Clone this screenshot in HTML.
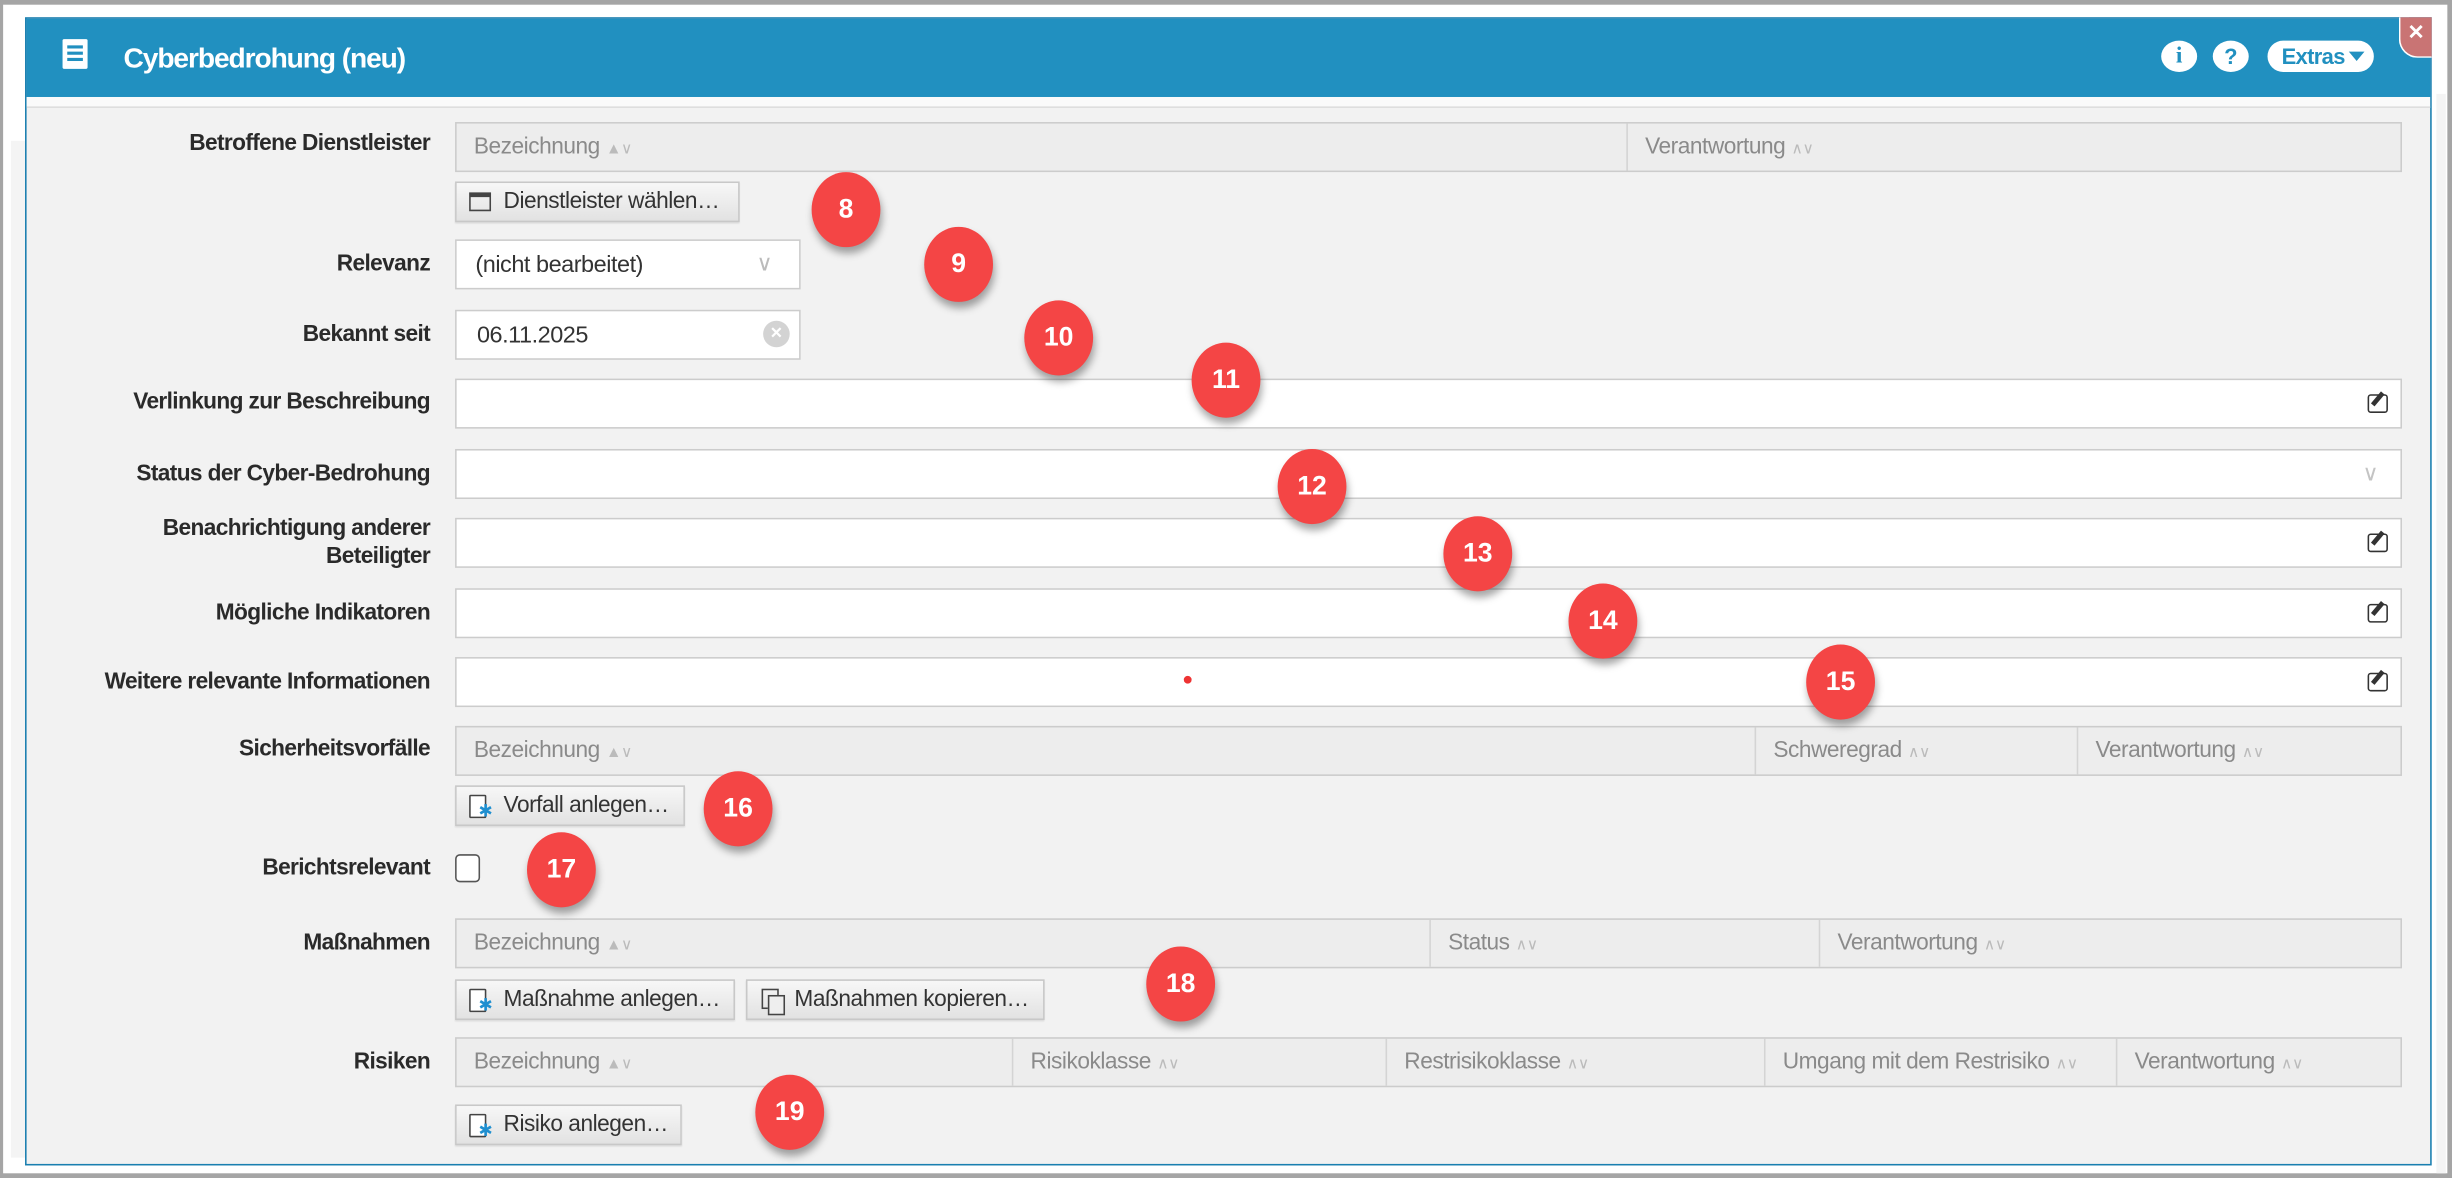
<!DOCTYPE html>
<html><head><meta charset="utf-8">
<style>
*{box-sizing:border-box;margin:0;padding:0}
html,body{width:2452px;height:1178px;overflow:hidden;background:#fff}
#w{position:absolute;left:0;top:0;width:1568px;height:753px;transform:scale(1.5638,1.5644);transform-origin:0 0;font-family:"Liberation Sans Narrow","Liberation Sans",sans-serif;background:#fff}
.a{position:absolute}
.lbl{position:absolute;right:1293px;font-size:14.5px;font-weight:bold;color:#2a2a2a;text-align:right;line-height:18px;white-space:nowrap;letter-spacing:-0.4px}
.tbl{position:absolute;left:291px;width:1245px;height:32px;background:#ededed;border:1px solid #ccc}
.th{position:absolute;top:0;height:30px;line-height:30px;font-size:14.5px;color:#8a8a8a;padding-left:11px;white-space:nowrap;letter-spacing:-0.3px}
.th.d{border-left:1px solid #d4d4d4}
.th s{text-decoration:none;font-size:10px;color:#bbb;margin-left:4px}
.inp{position:absolute;left:291px;width:1245px;height:32px;background:#fff;border:1px solid #ccc}
.btn{position:absolute;height:26px;background:linear-gradient(#f7f7f7,#e2e2e2);border:1px solid #c8c8c8;font-size:14.5px;color:#333;line-height:24px;padding-left:30px;white-space:nowrap;letter-spacing:-0.3px;box-shadow:0 1px 1px rgba(0,0,0,.1)}
.doc{position:absolute;left:8px;top:5px;width:11px;height:15px;border:1.5px solid #444;border-radius:1px;background:#fff}
.doc:after{content:"✱";position:absolute;left:5px;top:5px;color:#1f8fd0;font-size:11px;line-height:11px}
.c{position:absolute;width:44px;height:48px;border-radius:50%;background:#f44545;color:#fff;font-family:"Liberation Sans",sans-serif;font-weight:bold;font-size:17px;text-align:center;line-height:48px;box-shadow:1px 4px 5px rgba(0,0,0,.35)}
.ed{position:absolute;right:8px;top:9px;width:13px;height:12px;border:1.5px solid #333;border-radius:2px}
.ed:after{content:"";position:absolute;left:4px;top:-3px;width:3px;height:10px;background:#333;transform:rotate(40deg)}
</style></head><body><div id="w">
<div class="a" style="left:0;top:0;width:1568px;height:3px;background:#a5a5a5"></div>
<div class="a" style="left:0;top:750px;width:1568px;height:3px;background:#a5a5a5"></div>
<div class="a" style="left:0;top:0;width:2px;height:753px;background:#a5a5a5"></div>
<div class="a" style="left:1565px;top:0;width:3px;height:753px;background:#a5a5a5"></div>
<div class="a" style="left:7px;top:90px;width:14px;height:650px;background:#f4f4f4"></div>
<div class="a" style="left:1558px;top:60px;width:6px;height:690px;background:#f4f4f4"></div>
<!-- dialog -->
<div class="a" style="left:16px;top:11px;width:1539px;height:734px;background:#f2f2f2;border:1px solid #1a7fb0"></div>
<div class="a" style="left:17px;top:12px;width:1537px;height:50px;background:#2190c0"></div>
<div class="a" style="left:17px;top:62px;width:1537px;height:7px;background:#fafafa;border-bottom:1px solid #ddd"></div>
<div class="a" style="left:40px;top:25px;width:16px;height:19px;background:#fff;border-radius:1px"></div>
<div class="a" style="left:43px;top:29px;width:10px;height:2px;background:#2190c0;box-shadow:0 4px 0 #2190c0,0 8px 0 #2190c0"></div>
<div class="a" style="left:79px;top:27px;font-size:18px;font-weight:bold;color:#fff;white-space:nowrap;letter-spacing:-0.7px">Cyberbedrohung (neu)</div>
<div class="a" style="left:1382px;top:26px;width:23px;height:20px;border-radius:50%;background:#fff;color:#2190c0;font-weight:bold;font-size:15px;text-align:center;line-height:20px;font-family:'Liberation Serif',serif">i</div>
<div class="a" style="left:1415px;top:26px;width:23px;height:20px;border-radius:50%;background:#fff;color:#2190c0;font-weight:bold;font-size:14px;text-align:center;line-height:20px">?</div>
<div class="a" style="left:1450px;top:26px;width:68px;height:20px;border-radius:10px;background:#fff;color:#2190c0;font-weight:bold;font-size:14px;line-height:20px;padding-left:9px;letter-spacing:-0.4px">Extras<span style="display:inline-block;margin-left:3px;width:0;height:0;border-left:5px solid transparent;border-right:5px solid transparent;border-top:6px solid #2190c0;vertical-align:2px"></span></div>
<div class="a" style="left:1534px;top:11px;width:21px;height:26px;background:#c97474;border-left:1px solid #fff;border-bottom:1px solid #fff;border-bottom-left-radius:12px;color:#fff;font-weight:bold;font-size:13px;text-align:center;line-height:20px">✕</div>
<!-- labels -->
<div class="lbl" style="top:83px">Betroffene Dienstleister</div>
<div class="lbl" style="top:160px">Relevanz</div>
<div class="lbl" style="top:205px">Bekannt seit</div>
<div class="lbl" style="top:248px">Verlinkung zur Beschreibung</div>
<div class="lbl" style="top:294px">Status der Cyber-Bedrohung</div>
<div class="lbl" style="top:329px">Benachrichtigung anderer<br>Beteiligter</div>
<div class="lbl" style="top:383px">Mögliche Indikatoren</div>
<div class="lbl" style="top:427px">Weitere relevante Informationen</div>
<div class="lbl" style="top:470px">Sicherheitsvorfälle</div>
<div class="lbl" style="top:546px">Berichtsrelevant</div>
<div class="lbl" style="top:594px">Maßnahmen</div>
<div class="lbl" style="top:670px">Risiken</div>
<!-- fields -->
<div class="tbl" style="top:78px"><div class="th" style="left:0">Bezeichnung<s>▲∨</s></div><div class="th d" style="left:748px">Verantwortung<s>∧∨</s></div></div>
<div class="btn" style="left:291px;top:116px;width:182px"><div class="a" style="left:8px;top:6px;width:14px;height:12px;border:1.5px solid #444;border-top-width:3px"></div>Dienstleister wählen…</div>
<div class="inp" style="top:153px;width:221px;height:32px"><div class="a" style="left:12px;top:7px;font-size:15px;color:#333;letter-spacing:-0.3px">(nicht bearbeitet)</div><div class="a" style="right:17px;top:6px;color:#bbb;font-size:14px">∨</div></div>
<div class="inp" style="top:198px;width:221px;height:32px"><div class="a" style="left:13px;top:7px;font-size:15px;color:#333;letter-spacing:-0.3px">06.11.2025</div><div class="a" style="right:6px;top:6px;width:17px;height:17px;border-radius:50%;background:#d3d3d3;color:#fff;font-size:10px;font-weight:bold;text-align:center;line-height:17px">✕</div></div>
<div class="inp" style="top:242px"><div class="ed"></div></div>
<div class="inp" style="top:287px"><div class="a" style="right:14px;top:6px;color:#c4c4c4;font-size:14px">∨</div></div>
<div class="inp" style="top:331px"><div class="ed"></div></div>
<div class="inp" style="top:376px"><div class="ed"></div></div>
<div class="inp" style="top:420px"><div class="ed"></div></div>
<div class="a" style="left:757px;top:432px;width:5px;height:5px;border-radius:50%;background:#e33"></div>
<div class="tbl" style="top:464px"><div class="th" style="left:0">Bezeichnung<s>▲∨</s></div><div class="th d" style="left:830px">Schweregrad<s>∧∨</s></div><div class="th d" style="left:1036px">Verantwortung<s>∧∨</s></div></div>
<div class="btn" style="left:291px;top:502px;width:147px"><div class="doc"></div>Vorfall anlegen…</div>
<div class="a" style="left:291px;top:546px;width:16px;height:18px;border:1.5px solid #555;border-radius:3px;background:#fff"></div>
<div class="tbl" style="top:587px"><div class="th" style="left:0">Bezeichnung<s>▲∨</s></div><div class="th d" style="left:622px">Status<s>∧∨</s></div><div class="th d" style="left:871px">Verantwortung<s>∧∨</s></div></div>
<div class="btn" style="left:291px;top:626px;width:179px"><div class="doc"></div>Maßnahme anlegen…</div>
<div class="btn" style="left:477px;top:626px;width:191px"><div class="a" style="left:9px;top:5px;width:11px;height:13px;border:1.5px solid #444"></div><div class="a" style="left:13px;top:9px;width:11px;height:13px;border:1.5px solid #444;background:#eee"></div>Maßnahmen kopieren…</div>
<div class="tbl" style="top:663px"><div class="th" style="left:0">Bezeichnung<s>▲∨</s></div><div class="th d" style="left:355px">Risikoklasse<s>∧∨</s></div><div class="th d" style="left:594px">Restrisikoklasse<s>∧∨</s></div><div class="th d" style="left:836px">Umgang mit dem Restrisiko<s>∧∨</s></div><div class="th d" style="left:1061px">Verantwortung<s>∧∨</s></div></div>
<div class="btn" style="left:291px;top:706px;width:145px"><div class="doc"></div>Risiko anlegen…</div>
<!-- markers -->
<div class="c" style="left:519px;top:110px">8</div>
<div class="c" style="left:591px;top:145px">9</div>
<div class="c" style="left:655px;top:192px">10</div>
<div class="c" style="left:762px;top:219px">11</div>
<div class="c" style="left:817px;top:287px">12</div>
<div class="c" style="left:923px;top:330px">13</div>
<div class="c" style="left:1003px;top:373px">14</div>
<div class="c" style="left:1155px;top:412px">15</div>
<div class="c" style="left:450px;top:493px">16</div>
<div class="c" style="left:337px;top:532px">17</div>
<div class="c" style="left:733px;top:605px">18</div>
<div class="c" style="left:483px;top:687px">19</div>
</div></body></html>
